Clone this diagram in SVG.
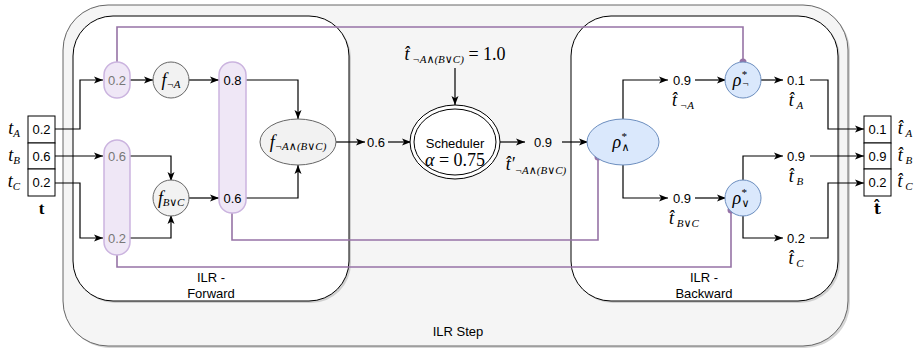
<svg xmlns="http://www.w3.org/2000/svg" width="917" height="350" viewBox="0 0 917 350">
<defs>
<marker id="ar" markerWidth="10" markerHeight="8" refX="9" refY="4" orient="auto" markerUnits="userSpaceOnUse">
<path d="M0,0.5 L9,4 L0,7.5 L2.2,4 z" fill="#000"/>
</marker>
<style>
.s{font-family:"Liberation Sans",Arial,sans-serif;font-size:13px;fill:#000;text-anchor:middle}
.g{fill:#777}
.m{font-family:"Liberation Serif","DejaVu Serif",serif;font-style:italic;font-size:18px;fill:#000;text-anchor:middle}
.sub{font-size:11px}
.c{fill:none;stroke:#000;stroke-width:1.2}
.p{fill:none;stroke:#9673a6;stroke-width:1.6}
.pill{fill:#efe7f6;stroke:#cbb4df;stroke-width:1.5}
.f{fill:#f2f2f2;stroke:#666;stroke-width:1}
.b{fill:#dae8fc;stroke:#6c8ebf;stroke-width:1}
.cell{fill:#fff;stroke:#000;stroke-width:1}
</style>
</defs>
<g id="ilr-step">
<rect x="65" y="7" width="785" height="341" rx="45" fill="#d6d6d6"/>
<rect x="63" y="5" width="785" height="341" rx="45" fill="#f5f5f5" stroke="#666" stroke-width="1"/>
<text class="s" x="458" y="336">ILR Step</text>
</g>
<g id="ilr-forward">
<rect x="75" y="18" width="276" height="285" rx="40" fill="#cfcfcf"/>
<rect x="73" y="16" width="276" height="285" rx="40" fill="#fff" stroke="#000" stroke-width="1"/>
<text class="s" x="211" y="282">ILR -</text>
<text class="s" x="211" y="298">Forward</text>
</g>
<g id="ilr-backward">
<rect x="573" y="18" width="267" height="285" rx="40" fill="#cfcfcf"/>
<rect x="571" y="16" width="267" height="285" rx="40" fill="#fff" stroke="#000" stroke-width="1"/>
<text class="s" x="704" y="282">ILR -</text>
<text class="s" x="704" y="298">Backward</text>
</g>
<g id="connectors">
<path class="p" d="M117,62 V27 H743 V62"/>
<path class="p" d="M232,213 V240 H598 V157"/>
<path class="p" d="M117,255 V267 H731 V210"/>
<circle cx="743" cy="62" r="3.5" fill="#9673a6"/>
<circle cx="598" cy="157" r="3.5" fill="#9673a6"/>
<circle cx="731" cy="210" r="3.5" fill="#9673a6"/>
<path class="c" d="M55,129 H80 V80 H103" marker-end="url(#ar)"/>
<path class="c" d="M55,156 H103" marker-end="url(#ar)"/>
<path class="c" d="M55,183 H80 V238 H103" marker-end="url(#ar)"/>
<path class="c" d="M130,80 H153" marker-end="url(#ar)"/>
<path class="c" d="M189,80 H219" marker-end="url(#ar)"/>
<path class="c" d="M130,156 H171 V181" marker-end="url(#ar)"/>
<path class="c" d="M130,238 H171 V215" marker-end="url(#ar)"/>
<path class="c" d="M189,198 H219" marker-end="url(#ar)"/>
<path class="c" d="M246,80 H298 V119" marker-end="url(#ar)"/>
<path class="c" d="M246,198 H298 V165" marker-end="url(#ar)"/>
<path class="c" d="M336,142 H365" marker-end="url(#ar)"/>
<path class="c" d="M388,142 H411" marker-end="url(#ar)"/>
<path class="c" d="M455,68 V105" marker-end="url(#ar)"/>
<path class="c" d="M500,142 H525" marker-end="url(#ar)"/>
<path class="c" d="M562,142 H588" marker-end="url(#ar)"/>
<path class="c" d="M623,119 V80 H668" marker-end="url(#ar)"/>
<path class="c" d="M695,80 H726" marker-end="url(#ar)"/>
<path class="c" d="M761,80 H783" marker-end="url(#ar)"/>
<path class="c" d="M810,80 H828 V129 H864" marker-end="url(#ar)"/>
<path class="c" d="M623,165 V198 H668" marker-end="url(#ar)"/>
<path class="c" d="M695,198 H726" marker-end="url(#ar)"/>
<path class="c" d="M743,181 V156 H783" marker-end="url(#ar)"/>
<path class="c" d="M810,156 H864" marker-end="url(#ar)"/>
<path class="c" d="M743,215 V238 H783" marker-end="url(#ar)"/>
<path class="c" d="M810,238 H828 V183 H864" marker-end="url(#ar)"/>
</g>
<g id="input-vector">
<rect class="cell" x="28" y="116" width="27" height="27"/>
<rect class="cell" x="28" y="143" width="27" height="26"/>
<rect class="cell" x="28" y="169" width="27" height="27"/>
<text class="s" x="41.5" y="134">0.2</text>
<text class="s" x="41.5" y="161">0.6</text>
<text class="s" x="41.5" y="187">0.2</text>
<text class="m" x="14" y="134">t<tspan class="sub" dy="3">A</tspan></text>
<text class="m" x="14" y="161">t<tspan class="sub" dy="3">B</tspan></text>
<text class="m" x="14" y="187">t<tspan class="sub" dy="3">C</tspan></text>
<text x="41.5" y="214" font-family="Liberation Serif,serif" font-weight="bold" font-size="17" text-anchor="middle">t</text>
</g>
<g id="pill-a">
<rect class="pill" x="104" y="62" width="26" height="36" rx="13"/>
<text class="s g" x="117" y="85">0.2</text>
</g>
<g id="pill-bc">
<rect class="pill" x="104" y="140" width="26" height="115" rx="13"/>
<text class="s g" x="117" y="161">0.6</text>
<text class="s g" x="117" y="243">0.2</text>
</g>
<g id="f-not-a">
<circle class="f" cx="171" cy="80" r="18"/>
<text class="m" x="171" y="86">f<tspan class="sub" dy="2">¬A</tspan></text>
</g>
<g id="f-b-or-c">
<circle class="f" cx="171" cy="198" r="18"/>
<text class="m" x="171" y="204" style="letter-spacing:-0.3px">f<tspan class="sub" dy="2">B∨C</tspan></text>
</g>
<g id="pill-mid">
<rect class="pill" x="219" y="62" width="27" height="151" rx="13"/>
<text class="s" x="232.5" y="85">0.8</text>
<text class="s" x="232.5" y="203">0.6</text>
</g>
<g id="f-formula">
<ellipse class="f" cx="298" cy="142" rx="38" ry="23"/>
<text class="m" x="298" y="148">f<tspan class="sub" dy="2">¬A∧(B∨C)</tspan></text>
</g>
<g id="val-06">
<text class="s" x="376" y="147">0.6</text>
</g>
<g id="target">
<text class="m" x="455" y="60">t̂<tspan class="sub" dy="3"> ¬A∧(B∨C)</tspan><tspan dy="-3" font-style="normal"> = 1.0</tspan></text>
</g>
<g id="scheduler">
<ellipse cx="455" cy="142" rx="45" ry="37" fill="#fff" stroke="#000" stroke-width="1"/>
<ellipse cx="455" cy="142" rx="41" ry="33" fill="none" stroke="#000" stroke-width="1"/>
<text class="s" x="455" y="148">Scheduler</text>
<text class="m" x="455" y="166">α <tspan font-style="normal">= 0.75</tspan></text>
</g>
<g id="val-09">
<text class="s" x="543" y="147">0.9</text>
<text class="m" x="536" y="170">t̂′<tspan class="sub" dy="4">¬A∧(B∨C)</tspan></text>
</g>
<g id="rho-and">
<ellipse class="b" cx="623" cy="142" rx="36" ry="23"/>
<text class="m" x="621" y="148">ρ<tspan class="sub" dy="-8">*</tspan><tspan class="sub" dx="-5" dy="11">∧</tspan></text>
</g>
<g id="val-not-a">
<text class="s" x="682" y="85">0.9</text>
<text class="m" x="683" y="106">t̂<tspan class="sub" dy="3"> ¬A</tspan></text>
</g>
<g id="rho-not">
<circle class="b" cx="743" cy="80" r="18"/>
<text class="m" x="741" y="86">ρ<tspan class="sub" dy="-8">*</tspan><tspan class="sub" dx="-5" dy="9">¬</tspan></text>
</g>
<g id="val-a">
<text class="s" x="796" y="85">0.1</text>
<text class="m" x="796" y="106">t̂<tspan class="sub" dy="3"> A</tspan></text>
</g>
<g id="val-b-or-c">
<text class="s" x="682" y="203">0.9</text>
<text class="m" x="684" y="224">t̂<tspan class="sub" dy="3"> B∨C</tspan></text>
</g>
<g id="rho-or">
<circle class="b" cx="743" cy="198" r="18"/>
<text class="m" x="741" y="204">ρ<tspan class="sub" dy="-8">*</tspan><tspan class="sub" dx="-5" dy="11">∨</tspan></text>
</g>
<g id="val-b">
<text class="s" x="796" y="161">0.9</text>
<text class="m" x="796" y="182">t̂<tspan class="sub" dy="3"> B</tspan></text>
</g>
<g id="val-c">
<text class="s" x="796" y="243">0.2</text>
<text class="m" x="796" y="264">t̂<tspan class="sub" dy="3"> C</tspan></text>
</g>
<g id="output-vector">
<rect class="cell" x="864" y="116" width="27" height="27"/>
<rect class="cell" x="864" y="143" width="27" height="26"/>
<rect class="cell" x="864" y="169" width="27" height="27"/>
<text class="s" x="877.5" y="134">0.1</text>
<text class="s" x="877.5" y="161">0.9</text>
<text class="s" x="877.5" y="187">0.2</text>
<text class="m" x="905" y="134">t̂<tspan class="sub" dy="3"> A</tspan></text>
<text class="m" x="905" y="161">t̂<tspan class="sub" dy="3"> B</tspan></text>
<text class="m" x="905" y="187">t̂<tspan class="sub" dy="3"> C</tspan></text>
<text x="877.5" y="214" font-family="DejaVu Serif,serif" font-weight="bold" font-size="15" text-anchor="middle">t̂</text>
</g>
</svg>
